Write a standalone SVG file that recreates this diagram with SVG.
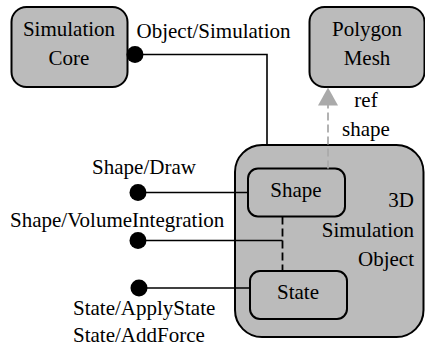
<svg xmlns="http://www.w3.org/2000/svg" width="425" height="352" viewBox="0 0 425 352">
<style>
.box{fill:#bbbbbb;stroke:#000;stroke-width:2}
.ln{fill:none;stroke:#000;stroke-width:1.6}
.dash{fill:none;stroke:#000;stroke-width:1.8;stroke-dasharray:8,4}
.gdash{fill:none;stroke:#aaaaaa;stroke-width:1.8;stroke-dasharray:8,4}
.dot{fill:#000}
</style>
<g font-family="Liberation Serif, Times New Roman, serif" font-size="21" fill="#000">
<g id="simulation-core">
<rect class="box" x="11.5" y="7" width="116" height="80" rx="15"/>
<text text-anchor="middle" x="69" y="36">Simulation</text>
<text text-anchor="middle" x="69" y="65">Core</text>
</g>
<g id="polygon-mesh">
<rect class="box" x="309.5" y="7" width="115" height="80" rx="15"/>
<text text-anchor="middle" x="367" y="36">Polygon</text>
<text text-anchor="middle" x="367" y="65">Mesh</text>
</g>
<g id="sim-object">
<rect class="box" x="235" y="145" width="188.5" height="192" rx="27"/>
<text text-anchor="end" x="414" y="207">3D</text>
<text text-anchor="end" x="414" y="237">Simulation</text>
<text text-anchor="end" x="414" y="266">Object</text>
</g>
<g id="shape">
<rect class="box" x="248" y="168.5" width="97" height="48" rx="10"/>
<text text-anchor="middle" x="296" y="197">Shape</text>
</g>
<g id="state">
<rect class="box" x="250" y="271" width="97" height="48" rx="10"/>
<text text-anchor="middle" x="298" y="299">State</text>
</g>
<g id="connectors">
<path class="ln" d="M135,54.5 H267 V145"/>
<circle class="dot" cx="135" cy="54.5" r="8.5"/>
<text x="136.5" y="38">Object/Simulation</text>
<path class="gdash" d="M328,168.5 V105"/>
<path d="M328,87.5 L318,105.5 L338,105.5 Z" fill="#aaaaaa"/>
<text text-anchor="middle" x="366" y="107">ref</text>
<text text-anchor="middle" x="366" y="136">shape</text>
<path class="dash" d="M282.5,216.5 V271"/>
<path class="ln" d="M138,192.5 H248"/>
<circle class="dot" cx="138" cy="192.5" r="8.5"/>
<text text-anchor="middle" x="144" y="174">Shape/Draw</text>
<path class="ln" d="M138,240.5 H282.5"/>
<circle class="dot" cx="138" cy="240.5" r="8.5"/>
<text x="10" y="227">Shape/VolumeIntegration</text>
<path class="ln" d="M139,288 H250"/>
<circle class="dot" cx="139" cy="288" r="8.5"/>
<text x="73" y="315">State/ApplyState</text>
<text x="73" y="342">State/AddForce</text>
</g>
</g>
</svg>
